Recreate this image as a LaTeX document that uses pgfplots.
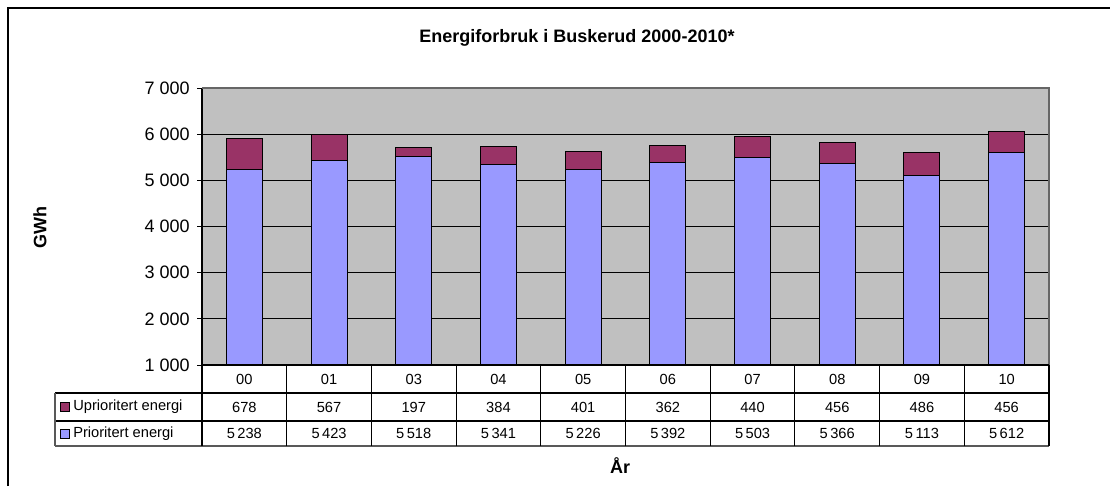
\documentclass[border=0pt]{standalone}
\usepackage{pgfplots}
\usepackage{pgfplotstable}
\pgfplotsset{compat=1.18}
\usepackage{fontspec}
\setmainfont{Liberation Sans}
\definecolor{upri}{HTML}{993366}
\definecolor{pri}{HTML}{9999FF}
\definecolor{bg}{HTML}{C0C0C0}
\pgfplotstableread{
idx yr u p
0 00 678 5238
1 01 567 5423
2 03 197 5518
3 04 384 5341
4 05 401 5226
5 06 362 5392
6 07 440 5503
7 08 456 5366
8 09 486 5113
9 10 456 5612
}\data
\newcommand{\tfont}{\fontsize{11}{13}\selectfont}
\newcommand{\bfont}{\fontsize{13.5}{16}\selectfont}
\begin{document}
\begin{tikzpicture}[x=0.75pt,y=0.75pt]
% px coordinates: X = x_img, Y = 486 - y_img
\path[use as bounding box] (0,0) rectangle (1110,486);
\draw[black, line width=0.9pt] (8,0) -- (8,478) -- (1110,478);
\coordinate (A) at (202,121);
\begin{axis}[
  at={(A)}, anchor=south west,
  scale only axis, width=635.25pt, height=207.75pt,
  xmin=-0.5, xmax=9.5, ymin=1000, ymax=7000,
  ytick={1000,2000,...,7000},
  xtick=\empty,
  ybar stacked, bar width=27pt,
  axis background/.style={fill=bg},
  axis line style={draw=none},
  ymajorgrids, major grid style={black, line width=0.6pt},
  tick align=outside, ytick pos=left,
  major tick length=3.75pt,
  tick style={black, line width=0.6pt},
  /pgf/number format/assume math mode=true,
  /pgf/number format/1000 sep={\ },
  yticklabel style={font=\bfont, xshift=-2pt},
  clip=false,
]
\addplot[fill=pri, draw=black, line width=0.8pt] table[x=idx, y=p] {\data};
\addplot[fill=upri, draw=black, line width=0.8pt] table[x=idx, y=u] {\data};
\draw[gray!80!black, line width=0.9pt] (rel axis cs:0,1) -- (rel axis cs:1,1) -- (rel axis cs:1,0);
\draw[black, line width=0.9pt] (rel axis cs:0,0) -- (rel axis cs:0,1);
\end{axis}
% data table
\draw[black, line width=0.8pt] (202,121) -- (1049,121);
\draw[black, line width=0.8pt] (55,93) -- (1049,93);
\draw[black, line width=0.8pt] (55,65) -- (1049,65);
\draw[gray!70!black, line width=0.9pt] (55,40) -- (1049,40);
\draw[gray!70!black, line width=0.8pt] (55,93) -- (55,40);
\foreach \k in {0,...,10} {
  \draw[black, line width=0.8pt] ({202+84.7*\k},121) -- ({202+84.7*\k},40);
}
\foreach \k/\lab in {0/00,1/01,2/03,3/04,4/05,5/06,6/07,7/08,8/09,9/10} {
  \node[font=\tfont] at ({244.35+84.7*\k},107) {\lab};
  \pgfplotstablegetelem{\k}{u}\of\data
  \node[font=\tfont] at ({244.35+84.7*\k},79) {\pgfplotsretval};
  \pgfplotstablegetelem{\k}{p}\of\data
  \node[font=\tfont] at ({244.35+84.7*\k},52.5) {\pgfmathprintnumber[assume math mode=true,1000 sep={\,}]{\pgfplotsretval}};
}
\draw[black, line width=0.6pt, fill=upri] (60,74.5) rectangle (69,83.5);
\node[font=\tfont, anchor=west, inner sep=0pt] at (73,79) {Uprioritert energi};
\draw[black, line width=0.6pt, fill=pri] (60,48) rectangle (69,57);
\node[font=\tfont, anchor=west, inner sep=0pt] at (73,52.5) {Prioritert energi};
% titles
\node[font=\bfont\bfseries] at (577,448) {Energiforbruk i Buskerud 2000-2010*};
\node[font=\bfont\bfseries] at (620,20) {År};
\node[font=\bfont\bfseries, rotate=90] at (40,258) {GWh};
\end{tikzpicture}
\end{document}
